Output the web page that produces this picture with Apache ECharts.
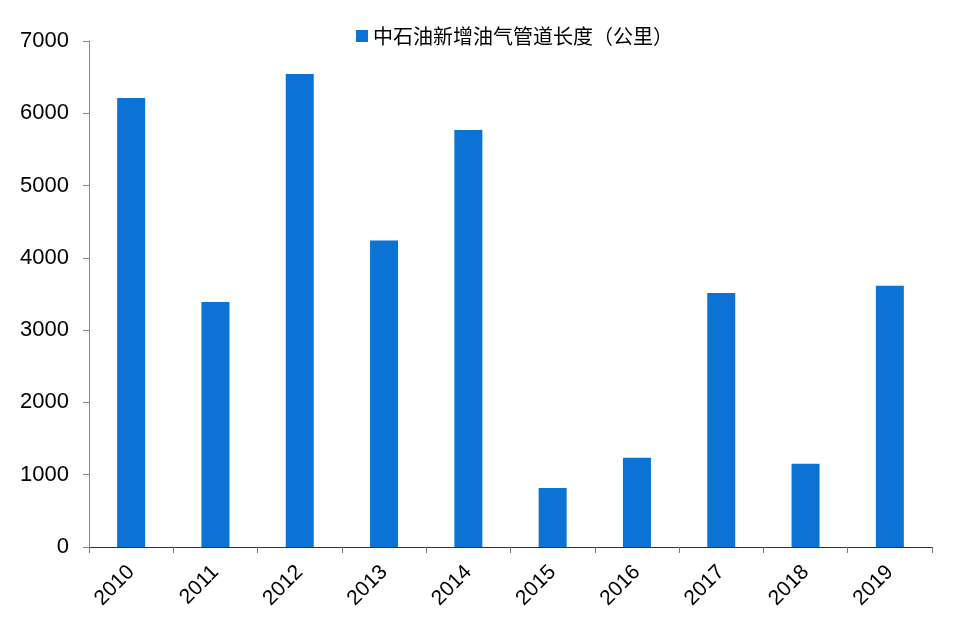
<!DOCTYPE html>
<html>
<head>
<meta charset="utf-8">
<script src="https://cdn.jsdelivr.net/npm/echarts@6/dist/echarts.min.js"></script>
<style>html,body{margin:0;padding:0;background:#fff}#c{width:980px;height:644px}</style>
</head>
<body>
<div id="c"></div>
<script>
const years = ['2010','2011','2012','2013','2014','2015','2016','2017','2018','2019'];
const pipelineKm = [6210, 3390, 6545, 4240, 5770, 815, 1235, 3515, 1150, 3615];
const seriesName = '中石油新增油气管道长度（公里）';
const yTicks = [0, 1000, 2000, 3000, 4000, 5000, 6000, 7000];

const chart = echarts.init(document.getElementById('c'), null, {renderer: 'canvas'});
chart.setOption({
  animation: false,
  backgroundColor: '#fff',
  legend: {
    top: 21,
    left: 351,
    itemWidth: 12,
    itemHeight: 12,
    itemGap: 4,
    icon: 'rect',
    textStyle: {fontFamily: '"Noto Sans CJK SC", sans-serif', fontSize: 20, color: '#000'},
    data: [seriesName]
  },
  grid: {left: 89, right: 48, top: 41, bottom: 97, containLabel: false},
  xAxis: {
    type: 'category',
    data: years,
    boundaryGap: true,
    axisLine: {lineStyle: {color: '#333', width: 1}},
    axisTick: {show: true, length: 6, lineStyle: {color: '#777'}},
    axisLabel: {rotate: 45, fontSize: 21, color: '#000', fontFamily: '"Liberation Sans", Arial, sans-serif', margin: 22}
  },
  yAxis: {
    type: 'value',
    min: yTicks[0],
    max: yTicks[yTicks.length - 1],
    interval: 1000,
    axisLine: {show: true, lineStyle: {color: '#888', width: 1}},
    axisTick: {show: true, length: 6, lineStyle: {color: '#888'}},
    splitLine: {show: false},
    axisLabel: {fontSize: 22, color: '#000', fontFamily: '"Liberation Sans", Arial, sans-serif', margin: 20,
      formatter: function (v) { return String(v); }}
  },
  series: [{
    name: seriesName,
    type: 'bar',
    data: pipelineKm,
    barWidth: 28,
    itemStyle: {color: '#0a73d3'}
  }]
});
</script>
</body>
</html>
